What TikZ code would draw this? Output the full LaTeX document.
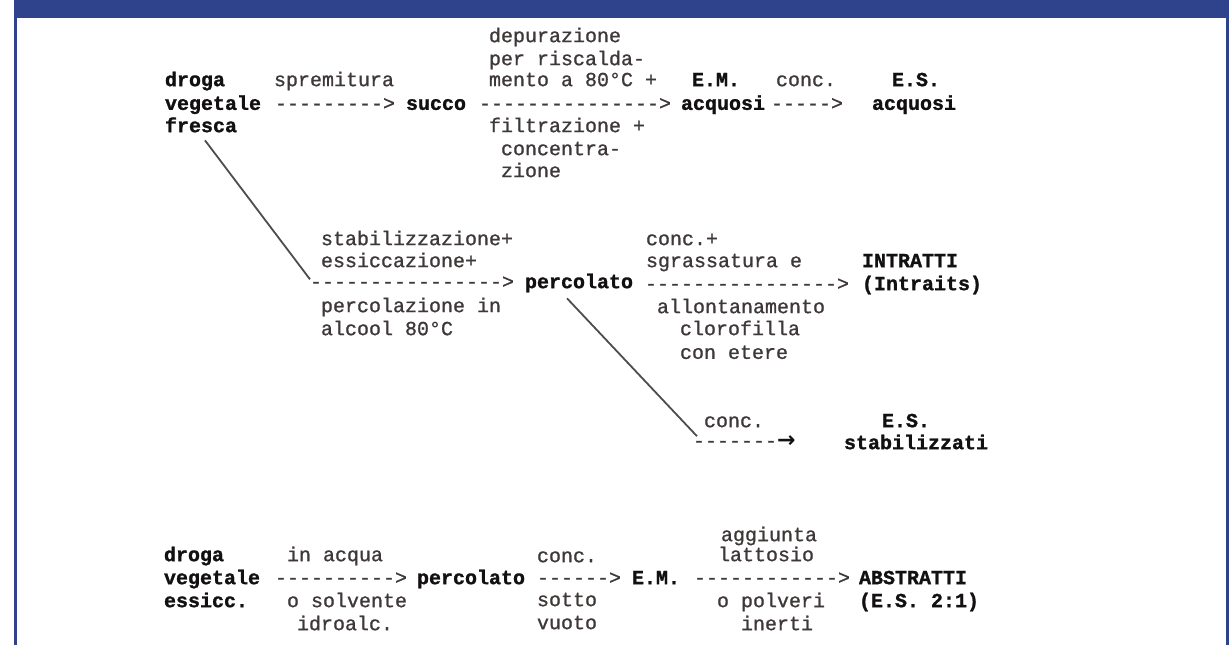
\documentclass[tikz,border=0pt]{standalone}
\usepackage{graphicx}
\usepackage{fontspec}
\newfontfamily\lblfont{Liberation Mono}[FakeBold=0.9]
\newfontfamily\nmfont{Liberation Mono Bold}[FakeBold=1.2]
\newfontfamily\arrowfont{DejaVu Sans Bold}
\usetikzlibrary{calc}
\definecolor{frameblue}{RGB}{46,67,140}
\definecolor{lblgray}{RGB}{62,56,56}
\definecolor{nmblack}{RGB}{18,16,16}
\definecolor{linegray}{RGB}{80,76,76}
\tikzset{
  txt/.style={anchor=mid west, inner sep=0pt, outer sep=0pt},
  lbl/.style={txt, text=lblgray, font=\lblfont\fontsize{20}{22}\selectfont},
  nm/.style={txt, text=nmblack, font=\nmfont\fontsize{20}{22}\selectfont},
  arrtxt/.style={lbl},
  diag/.style={draw=linegray, line width=1.8pt}
}
\begin{document}
\begin{tikzpicture}[x=1pt,y=-1pt]
\useasboundingbox (0,0) rectangle (1232,645);
\fill[white] (0,0) rectangle (1232,645);
% frame
\fill[frameblue] (14,0) rectangle (1229,18);
\fill[frameblue] (14,18) rectangle (16.8,645);
\fill[frameblue] (1226,18) rectangle (1229,645);

% ---- row 1
\node[nm] (d1) at (165,84) {droga};
\node[nm] (v1) at (165,107.7) {vegetale};
\node[nm] (fr) at (165,130) {fresca};
\node[lbl] (spr) at (274,84) {spremitura};
\node[arrtxt] (a1) at (275,107.7) {-{}-{}-{}-{}-{}-{}-{}-{}-{}>};
\node[nm] (succo) at (406,107.7) {succo};
\node[lbl] (dep1) at (489,40) {depurazione};
\node[lbl] (dep2) at (489,63) {per riscalda-};
\node[lbl] (dep3) at (489,84) {mento a 80°C +};
\node[arrtxt] (a2) at (479,107.7) {-{}-{}-{}-{}-{}-{}-{}-{}-{}-{}-{}-{}-{}-{}-{}>};
\node[lbl] (fil1) at (489,130) {filtrazione +};
\node[lbl] (fil2) at (501,153) {concentra-};
\node[lbl] (fil3) at (501,175) {zione};
\node[nm] (em1) at (692,84) {E.M.};
\node[nm] (aq1) at (681,107.7) {acquosi};
\node[lbl] (cc1) at (776,84) {conc.};
\node[arrtxt] (a3) at (771,107.7) {-{}-{}-{}-{}-{}>};
\node[nm] (es1) at (892,84) {E.S.};
\node[nm] (aq2) at (872,107.7) {acquosi};

% ---- row 2
\node[lbl] (stab1) at (321,243) {stabilizzazione+};
\node[lbl] (stab2) at (321,265) {essiccazione+};
\node[arrtxt] (a4) at (310,286) {-{}-{}-{}-{}-{}-{}-{}-{}-{}-{}-{}-{}-{}-{}-{}-{}>};
\node[nm] (perc1) at (525,286) {percolato};
\node[lbl] (pz1) at (321,310) {percolazione in};
\node[lbl] (pz2) at (321,333) {alcool 80°C};
\node[lbl] (cs1) at (646,243) {conc.+};
\node[lbl] (cs2) at (646,265) {sgrassatura e};
\node[arrtxt] (a5) at (645,288) {-{}-{}-{}-{}-{}-{}-{}-{}-{}-{}-{}-{}-{}-{}-{}-{}>};
\node[nm] (intr1) at (862,265) {INTRATTI};
\node[nm] (intr2) at (862,288) {(Intraits)};
\node[lbl] (al1) at (657,311) {allontanamento};
\node[lbl] (al2) at (680,333) {clorofilla};
\node[lbl] (al3) at (680,356.7) {con etere};
\node[lbl] (cc2) at (704,425) {conc.};
\node[arrtxt] (a6) at (693,445) {-{}-{}-{}-{}-{}-{}-{}{\arrowfont\color{nmblack}\scalebox{1.1}{→}}};
\node[nm] (es2) at (882,425) {E.S.};
\node[nm] (stz) at (844,447) {stabilizzati};

% ---- row 3
\node[nm] (d3) at (164,559) {droga};
\node[nm] (v3) at (164,582) {vegetale};
\node[nm] (ess) at (164,605) {essicc.};
\node[lbl] (ia) at (287,559) {in acqua};
\node[arrtxt] (a7) at (275,582) {-{}-{}-{}-{}-{}-{}-{}-{}-{}-{}>};
\node[nm] (perc3) at (417,582) {percolato};
\node[lbl] (os) at (287,605) {o solvente};
\node[lbl] (idr) at (297,628) {idroalc.};
\node[lbl] (cc3) at (537,560) {conc.};
\node[arrtxt] (a8) at (537,582) {-{}-{}-{}-{}-{}-{}>};
\node[lbl] (so) at (537,604) {sotto};
\node[lbl] (vu) at (537,627) {vuoto};
\node[nm] (em3) at (632,582) {E.M.};
\node[lbl] (ag1) at (721,539) {aggiunta};
\node[lbl] (ag2) at (718,559) {lattosio};
\node[arrtxt] (a9) at (694,582) {-{}-{}-{}-{}-{}-{}-{}-{}-{}-{}-{}-{}>};
\node[nm] (abs1) at (859,582) {ABSTRATTI};
\node[lbl] (op1) at (717,605) {o polveri};
\node[lbl] (op2) at (741,628) {inerti};
\node[nm] (abs2) at (859,605) {(E.S. 2:1)};

% diagonal connectors
\draw[diag] ($(fr.south west)+(40,8)$) -- ($(a4.west)+(0,-3)$);
\draw[diag] ($(perc1.south west)+(42,6)$) -- ($(a6.west)+(4,-5)$);
\end{tikzpicture}
\end{document}
